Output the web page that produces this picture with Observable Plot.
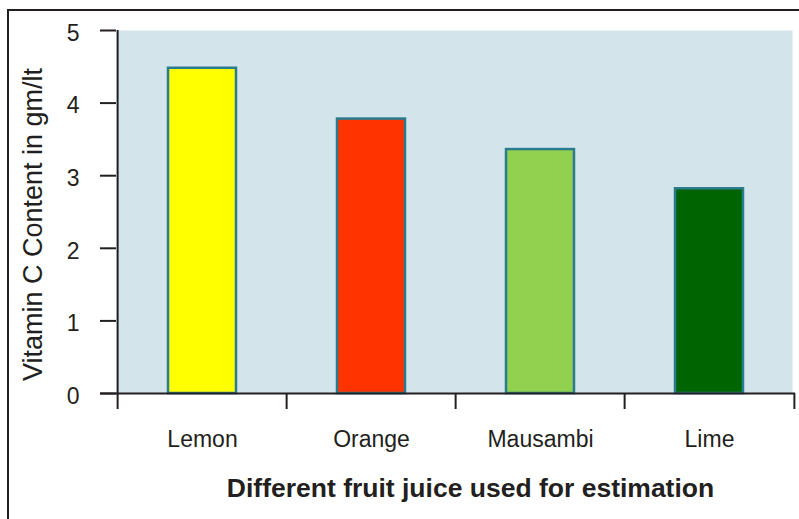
<!DOCTYPE html>
<html>
<head>
<meta charset="utf-8">
<script src="https://cdn.jsdelivr.net/npm/d3@7"></script>
<script src="https://cdn.jsdelivr.net/npm/@observablehq/plot@0.6"></script>
<style>
  body { margin: 0; background: #fff; }
  #chart { position: relative; width: 799px; height: 519px; overflow: hidden; font-family: "Liberation Sans", Arial, sans-serif; }
  #chart svg { position: absolute; left: 0; top: 0; }
  #border { position: absolute; left: 7px; top: 9px; width: 900px; height: 700px;
            border-left: 2.5px solid #231f20; border-top: 2.5px solid #231f20; }
</style>
</head>
<body>
<div id="chart"><div id="border"></div></div>
<script>
// Vitamin C content of fruit juices (gm/lt)
const fruits = ["Lemon", "Orange", "Mausambi", "Lime"];
const vitaminC = [4.48, 3.78, 3.36, 2.82];
const barColors = ["#ffff00", "#ff3300", "#92d050", "#006400"];
const yTicks = [0, 1, 2, 3, 4, 5];
const yLabel = "Vitamin C Content in gm/lt";
const xLabel = "Different fruit juice used for estimation";

const data = fruits.map((fruit, i) => ({fruit, value: vitaminC[i], color: barColors[i]}));

const width = 799, height = 519;
const marginLeft = 116, marginRight = 4, marginTop = 30, marginBottom = 126;
const step = (width - marginLeft - marginRight) / fruits.length;
const ink = "#231f20";
const font = "'Liberation Sans', Arial, sans-serif";

const chart = Plot.plot({
  width, height, marginLeft, marginRight, marginTop, marginBottom,
  style: {fontFamily: font, fontSize: "23px", color: ink, background: "transparent", overflow: "visible"},
  // inner padding twice the outer padding keeps each category in an equal slot
  x: {domain: fruits, paddingInner: 0.6, paddingOuter: 0.3, axis: null},
  y: {domain: [0, 5], axis: null},
  color: {type: "identity"},
  marks: [
    // panel background
    Plot.frame({fill: "#d4e4eb", stroke: null, insetRight: 3}),
    // bars
    Plot.barY(data, {x: "fruit", y: "value", fill: d => d.color, stroke: "#2b7b8e", strokeWidth: 2.5}),
    // y axis line, ticks and labels
    Plot.ruleX([fruits[0]], {x: d => d, dx: -step / 2, y1: 5, y2: 0, insetBottom: -16, stroke: ink, strokeWidth: 2}),
    Plot.ruleY(yTicks, {y: d => d, insetLeft: -16, insetRight: width - marginLeft - marginRight, stroke: ink, strokeWidth: 2}),
    Plot.text(yTicks, {y: d => d, text: d => String(d), frameAnchor: "left", textAnchor: "end", dx: -37, dy: 3, fontSize: 23}),
    // x axis line with ticks between categories
    Plot.ruleY([0], {insetLeft: -16, stroke: ink, strokeWidth: 2}),
    Plot.ruleX(fruits.slice(1), {x: d => d, dx: -step / 2, y1: 0, y2: 0, insetBottom: -16, stroke: ink, strokeWidth: 2}),
    Plot.ruleX([fruits[fruits.length - 1]], {x: d => d, dx: step / 2, y1: 0, y2: 0, insetBottom: -16, stroke: ink, strokeWidth: 2}),
    Plot.text(fruits, {x: d => d, text: d => d, frameAnchor: "bottom", dy: 53, fontSize: 23}),
    // axis titles
    Plot.text([yLabel], {frameAnchor: "left", textAnchor: "middle", dx: -83, dy: 12.5, rotate: -90, fontSize: 27}),
    Plot.text([xLabel], {frameAnchor: "bottom", textAnchor: "middle", dx: 14.5, dy: 103.5, fontSize: 26.5, fontWeight: "bold"})
  ]
});

document.getElementById("chart").appendChild(chart);
</script>
</body>
</html>
